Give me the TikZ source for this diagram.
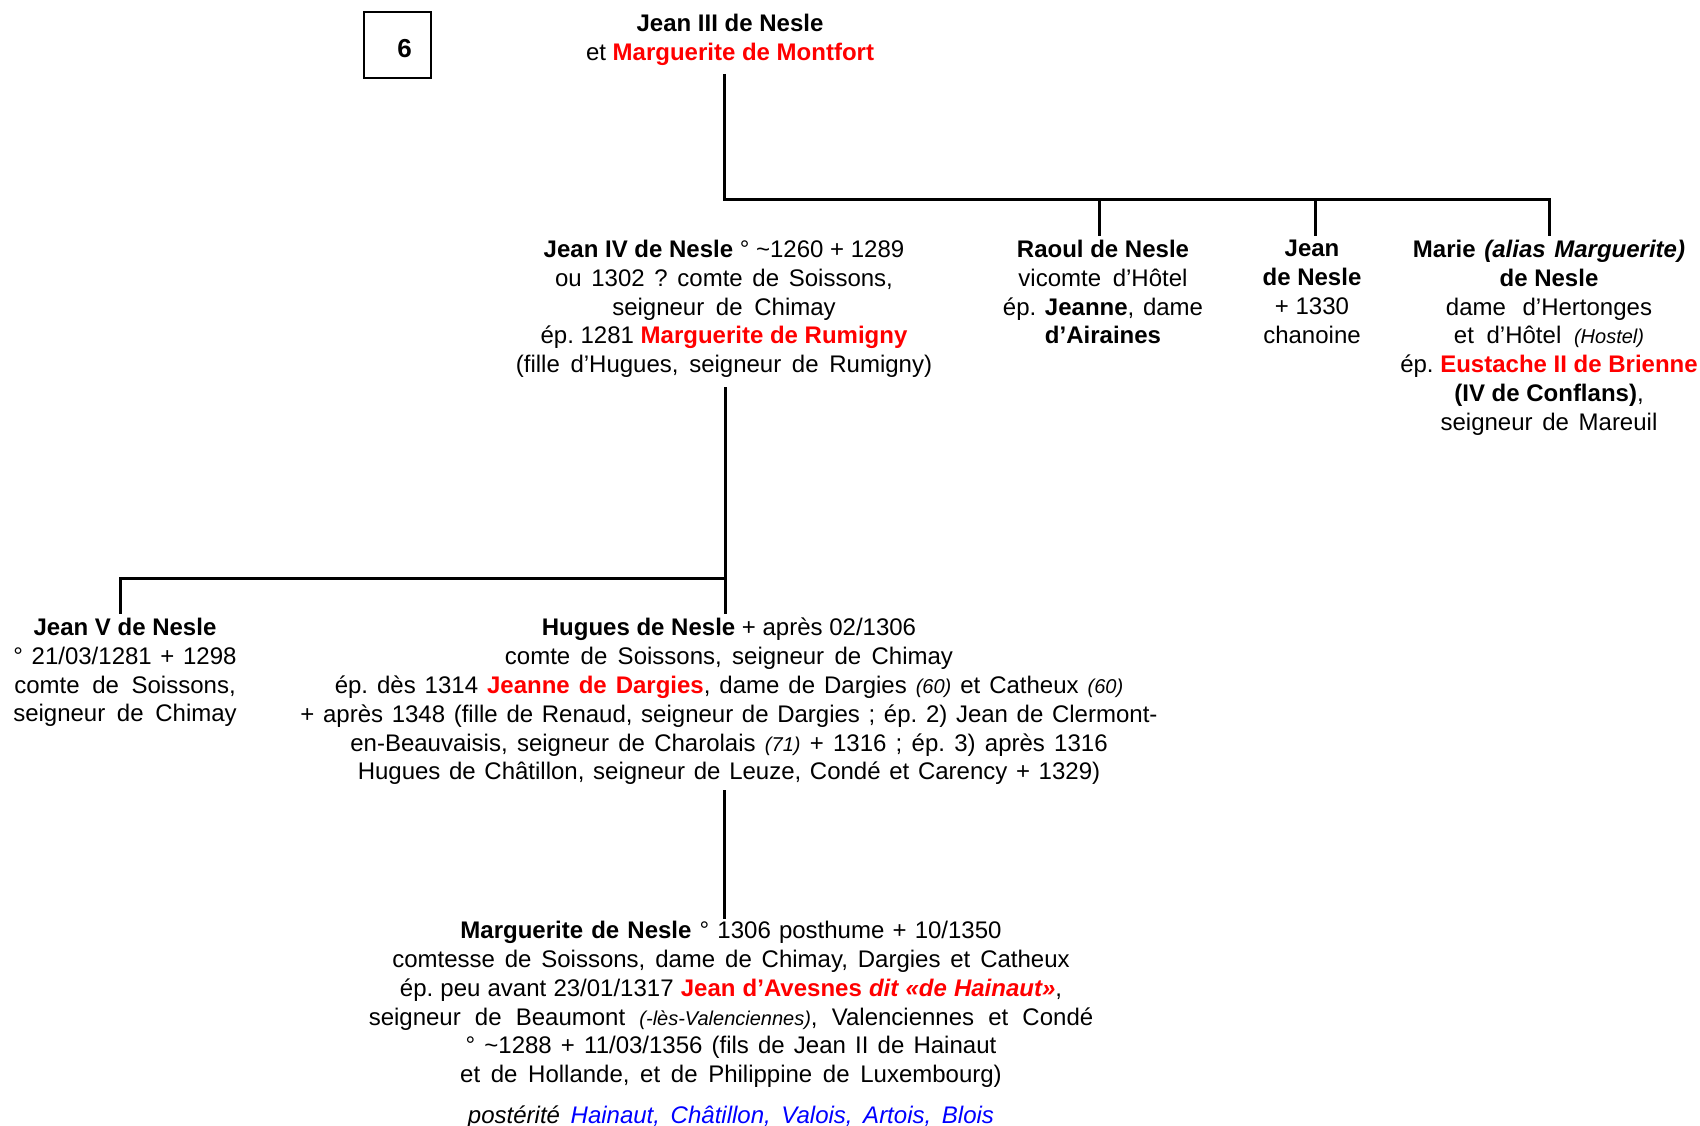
\documentclass[tikz,border=0pt]{standalone}
\usepackage{fontspec}
\setmainfont{Liberation Sans}
\frenchspacing
\definecolor{myred}{RGB}{255,0,0}
\definecolor{myblue}{RGB}{0,0,255}
\newcommand{\rd}[1]{\textcolor{myred}{\textbf{#1}}}
\newcommand{\smi}[1]{{\fontsize{20}{20}\selectfont\itshape #1}}
\newcommand{\W}[2]{{\spaceskip=\dimexpr 6.67pt+#1pt\relax #2}}
\begin{document}
\begin{tikzpicture}[x=1pt,y=-1pt,
  txt/.style={font=\fontsize{24}{28.8}\selectfont, align=center, anchor=north, inner sep=0pt},
  conn/.style={line width=3pt}]
\useasboundingbox (0,0) rectangle (1700,1126);

\node[draw, line width=1.2pt, minimum width=67pt, minimum height=66pt, inner sep=0pt,
      font=\fontsize{26}{30}\selectfont\bfseries] (num) at (397.5,45) {\hspace*{14pt}\raisebox{-13pt}[0pt][0pt]{6}};

\node[txt] (jean3) at (730,14) {\textbf{Jean III de Nesle}\\et \rd{Marguerite de Montfort}};

\node[txt] (jean4) at (724,240) {\textbf{Jean IV de Nesle} ° \textasciitilde1260 + 1289\\
  \W{3}{ou 1302 ? comte de Soissons,}\\
  \W{5}{seigneur de Chimay}\\
  ép. 1281 \rd{Marguerite de Rumigny}\\
  \W{4}{(fille d’Hugues, seigneur de Rumigny)}};

\node[txt] (raoul) at (1103,240) {\textbf{Raoul de Nesle}\\
  \W{5}{vicomte d’Hôtel}\\
  \W{2}{ép. \textbf{Jeanne}, dame}\\
  \textbf{d’Airaines}};

\node[txt] (jean) at (1312,240) {\textbf{Jean}\\\textbf{de Nesle}\\+ 1330\\chanoine};

\node[txt] (marie) at (1549,240) {\W{2}{\textbf{Marie \textit{(alias Marguerite)}}}\\
  \textbf{de Nesle}\\
  \W{10}{dame d’Hertonges}\\
  \W{6}{et d’Hôtel \smi{(Hostel)}}\\
  ép. \rd{Eustache II de Brienne}\\
  \textbf{(IV de Conflans)},\\
  \W{3}{seigneur de Mareuil}};

\node[txt] (jean5) at (125,618) {\textbf{Jean V de Nesle}\\
  \W{2}{° 21/03/1281 + 1298}\\
  \W{6}{comte de Soissons,}\\
  \W{5}{seigneur de Chimay}};

\node[txt] (hugues) at (729,618) {\textbf{Hugues de Nesle} + après 02/1306\\
  \W{3.7}{comte de Soissons, seigneur de Chimay}\\
  \W{2.3}{ép. dès 1314 \rd{Jeanne de Dargies}, dame de Dargies \smi{(60)} et Catheux \smi{(60)}}\\
  \W{2}{+ après 1348 (fille de Renaud, seigneur de Dargies ; ép. 2) Jean de Clermont-}\\
  \W{2.6}{en-Beauvaisis, seigneur de Charolais \smi{(71)} + 1316 ; ép. 3) après 1316}\\
  \W{2}{Hugues de Châtillon, seigneur de Leuze, Condé et Carency + 1329)}};

\node[txt] (marg) at (731,921) {\W{1.5}{\textbf{Marguerite de Nesle} ° 1306 posthume + 10/1350}\\
  \W{3.2}{comtesse de Soissons, dame de Chimay, Dargies et Catheux}\\
  \W{0.5}{ép. peu avant 23/01/1317 \rd{Jean d’Avesnes \textit{dit «de Hainaut»}},}\\
  \W{7.5}{seigneur de Beaumont \smi{(-lès-Valenciennes)}, Valenciennes et Condé}\\
  \W{2.5}{° \textasciitilde1288 + 11/03/1356 (fils de Jean II de Hainaut}\\
  \W{4}{et de Hollande, et de Philippine de Luxembourg)}};

\node[txt] (post) at (731,1106) {\W{4}{\textit{postérité \textcolor{myblue}{Hainaut, Châtillon, Valois, Artois, Blois}}}};

% connectors
\coordinate (a0) at (724,74);
\coordinate (a1) at (724,200);
\coordinate (a2) at (1549,200);
\coordinate (a2e) at (1549,236);
\coordinate (r0) at (1099,200);
\coordinate (r1) at (1099,236);
\coordinate (j0) at (1315,200);
\coordinate (j1) at (1315,236);
\draw[conn] (a0) -- (a1) -- (a2) -- (a2e);
\draw[conn] (r0) -- (r1);
\draw[conn] (j0) -- (j1);

\coordinate (b0) at (725,387);
\coordinate (b1) at (725,578);
\coordinate (b2) at (120,578);
\coordinate (b2e) at (120,614);
\coordinate (b1e) at (725,614);
\draw[conn] (b0) -- (b1e);
\draw[conn] (b1) -- (b2) -- (b2e);

\coordinate (c0) at (724,790);
\coordinate (c1) at (724,919);
\draw[conn] (c0) -- (c1);
\end{tikzpicture}
\end{document}
